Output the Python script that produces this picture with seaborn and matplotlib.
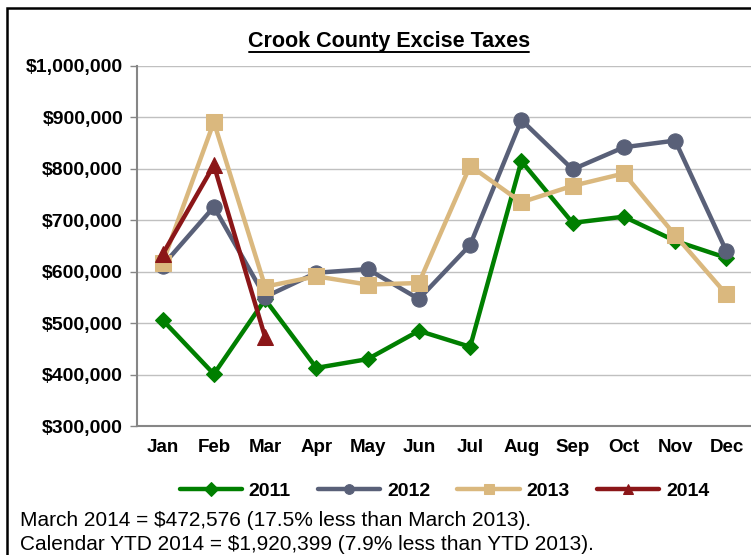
import pandas as pd
import seaborn as sns
import matplotlib.pyplot as plt
from matplotlib.patches import Rectangle
from matplotlib.ticker import FuncFormatter, FixedLocator

# Monthly excise tax values
months = ["Jan", "Feb", "Mar", "Apr", "May", "Jun", "Jul", "Aug", "Sep", "Oct", "Nov", "Dec"]
taxes_2011 = [506000, 401000, 546000, 413000, 430000, 485000, 454000, 815000, 695000, 707000, 660000, 627000]
taxes_2012 = [612000, 726000, 551000, 598000, 605000, 547000, 652000, 895000, 799000, 842000, 855000, 640000]
taxes_2013 = [617000, 891000, 571000, 591000, 575000, 578000, 806000, 735000, 767000, 791000, 671000, 556000]
taxes_2014 = [634000, 807000, 472576]

years = ["2011", "2012", "2013", "2014"]
colors = ["#007f00", "#596078", "#dab87e", "#8b1618"]
markers = ["D", "o", "s", "^"]
sizes = [8, 11, 11, 11]

frames = []
for yr, vals in zip(years, [taxes_2011, taxes_2012, taxes_2013, taxes_2014]):
    frames.append(pd.DataFrame({"month": range(len(vals)), "tax": vals, "year": yr}))
df = pd.concat(frames, ignore_index=True)

sns.set_style("white")
plt.rcParams["font.family"] = ["Liberation Sans", "DejaVu Sans"]
plt.rcParams["text.color"] = "black"
plt.rcParams["xtick.labelcolor"] = "black"
plt.rcParams["ytick.labelcolor"] = "black"

fig = plt.figure(figsize=(7.51, 5.55), dpi=100)
ax = fig.add_axes([137 / 751, (555 - 426) / 555, 615 / 751, 360 / 555])

for yr, col, mk, ms in zip(years, colors, markers, sizes):
    sub = df[df["year"] == yr]
    sns.lineplot(data=sub, x="month", y="tax", ax=ax, color=col, marker=mk,
                 markersize=ms, markeredgecolor=col, linewidth=3.2, label=yr)

ax.set_xlim(-0.5, 11.5)
ax.set_ylim(300000, 1000000)
ax.set_yticks(range(300000, 1000001, 100000))
ax.yaxis.set_major_formatter(FuncFormatter(lambda v, p: "${:,.0f}".format(v)))
ax.set_xticks(range(12))
ax.set_xticklabels(months)
ax.xaxis.set_minor_locator(FixedLocator([i - 0.5 for i in range(13)]))
ax.tick_params(axis="x", which="major", length=0, pad=9)
ax.tick_params(axis="x", which="minor", length=5, color="#868686", width=1)
ax.tick_params(axis="y", length=5, color="#868686", width=1, pad=5, left=True)
for lab in ax.get_xticklabels():
    lab.set_fontweight("bold")
    lab.set_fontsize(13.5)
for lab in ax.get_yticklabels():
    lab.set_fontweight("bold")
    lab.set_fontsize(14)

ax.grid(axis="y", color="#c0c0c0", linewidth=1)
ax.set_axisbelow(True)
sns.despine(ax=ax, top=True, right=True)
ax.spines["left"].set_color("#868686")
ax.spines["bottom"].set_color("#868686")
ax.spines["left"].set_linewidth(1.5)
ax.spines["bottom"].set_linewidth(1.5)
ax.set_xlabel("")
ax.set_ylabel("")

fig.text(389 / 751, 1 - 42 / 555, "Crook County Excise Taxes", ha="center", va="center",
         fontsize=15.5, fontweight="bold")
fig.add_artist(plt.Line2D([249 / 751, 529 / 751], [1 - 52 / 555, 1 - 52 / 555], color="black", linewidth=1.4))

leg = ax.legend(loc="center", bbox_to_anchor=(0.5, -0.18), ncol=4, frameon=False,
                handlelength=3.2, handletextpad=0.35, columnspacing=1.4, fontsize=14)
for t in leg.get_texts():
    t.set_fontweight("bold")
for h in leg.legend_handles:
    h.set_markersize(7)

fig.text(20 / 751, 1 - 521 / 555, "March 2014 = $472,576 (17.5% less than March 2013).",
         ha="left", va="center", fontsize=15)
fig.text(20 / 751, 1 - 544 / 555, "Calendar YTD 2014 = $1,920,399 (7.9% less than YTD 2013).",
         ha="left", va="center", fontsize=15)

fig.patches.append(Rectangle((7 / 751, -0.05), 1.1, 1 - 8 / 555 + 0.05, transform=fig.transFigure,
                             fill=False, edgecolor="black", linewidth=1.8))

fig.savefig("out.png", dpi=100)
